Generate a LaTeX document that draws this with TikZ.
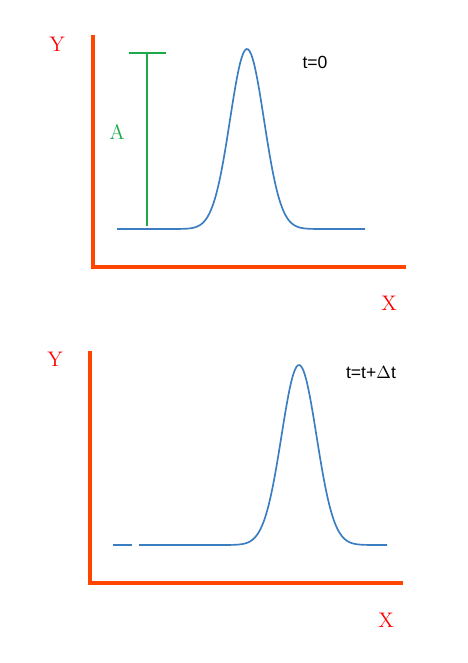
\documentclass[tikz,border=0pt]{standalone}
\usepackage{fontspec}
\newfontfamily\labelfont{Liberation Sans}
\definecolor{axisred}{RGB}{255,69,0}
\definecolor{ampgreen}{RGB}{26,170,74}
\definecolor{pulseblue}{RGB}{58,125,192}
\tikzset{
  axisline/.style={line width=2.3pt, color=axisred},
  pulse/.style={line width=0.95pt, color=pulseblue},
  axlabel/.style={text=red, font=\large},
  tlabel/.style={font=\labelfont\normalsize}
}

\begin{document}
\begin{tikzpicture}[x=0.02cm,y=-0.02cm]
\useasboundingbox (0,0) rectangle (467,663);
%TOP PANEL
\node[axlabel] (ytop) at (57,44) {Y};
\node[axlabel] (xtop) at (389,303) {X};
\node[tlabel] (ttop) at (315,62) {t=0};
\node[text=ampgreen, font=\large] (amp) at (117,132) {A};
\coordinate (otop) at (93,267);
\draw[axisline] (93,35) -- (otop) -- (406,267);
%amplitude bar
\coordinate (abot) at (147,226);
\coordinate (atop) at (147,53);
\draw[line width=1.2pt, color=ampgreen] (abot) -- (atop);
\draw[line width=1.2pt, color=ampgreen] (129,53) -- (166,53);
%pulse at t=0
\draw[pulse] plot[domain=117:365, samples=160, smooth] (\x,{229-180*exp(-((\x-247)/17)^2/2)});
%BOTTOM PANEL
\node[axlabel] (ybot) at (55,359) {Y};
\node[axlabel] (xbot) at (386,620) {X};
\node[tlabel] (tbot) at (371,373) {t=t+$\Delta$t};
\coordinate (obot) at (90,583);
\draw[axisline] (90,351) -- (obot) -- (403,583);
%pulse at t+dt
\draw[pulse] (113,545) -- (132,545);
\draw[pulse] plot[domain=139:387, samples=160, smooth] (\x,{545-180*exp(-((\x-299)/17.5)^2/2)});
\end{tikzpicture}
\end{document}
